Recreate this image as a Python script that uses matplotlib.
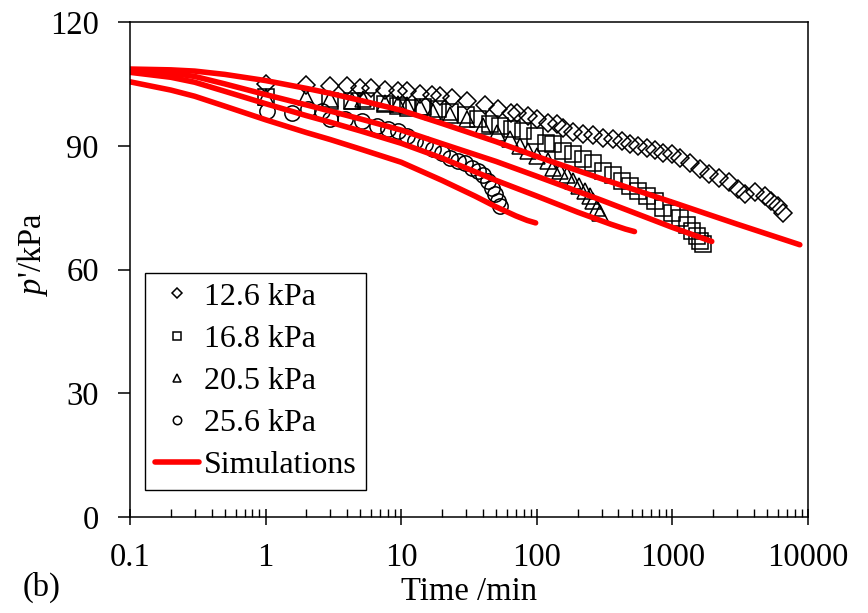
import matplotlib.pyplot as plt
from matplotlib.ticker import LogLocator, NullFormatter

plt.rcParams['font.family'] = ['Liberation Serif', 'DejaVu Serif']
plt.rcParams['mathtext.fontset'] = 'custom'
plt.rcParams['mathtext.it'] = 'Liberation Serif:italic'
plt.rcParams['mathtext.rm'] = 'Liberation Serif'

# measured data (time in min, p' in kPa)
t_126 = [1, 2, 3, 4, 5, 6, 7.6, 9.5, 11, 13.7, 16.8, 19.2, 23.6, 30.5, 41.6, 52, 64, 72, 86, 101,
         120, 142, 156, 185, 219, 259, 308, 365, 425, 486, 557, 650, 745, 853, 993, 1138, 1350,
         1587, 1870, 2200, 2600, 3060, 3440, 4050, 4800, 5300, 6000, 6500]
p_126 = [105.0, 104.8, 104.5, 104.5, 104.0, 104.0, 103.6, 103.3, 103.3, 102.6, 102.3, 102.1, 101.6,
         100.9, 99.9, 99.0, 98.0, 98.0, 97.3, 96.5, 95.6, 95.2, 94.4, 93.4, 92.9, 92.7, 91.9, 91.7,
         91.2, 90.5, 90.0, 89.5, 89.0, 88.3, 88.1, 87.1, 85.7, 84.4, 83.2, 82.3, 81.1, 79.6, 78.4,
         78.7, 77.9, 76.7, 75.5, 73.6]

t_168 = [1, 3, 4.3, 5.5, 7.6, 9.5, 11.3, 14.5, 18.6, 23, 29.8, 36.8, 45.2, 53.5, 65.7, 79, 96.6,
         117, 131, 156, 185, 219, 259, 308, 365, 425, 486, 557, 650, 745, 853, 993, 1138, 1282,
         1390, 1517, 1595, 1670]
p_168 = [101.9, 100.9, 100.9, 100.9, 100.2, 99.7, 99.2, 99.4, 99.0, 98.2, 97.5, 96.5, 95.3, 94.8,
         94.1, 93.6, 92.4, 90.7, 90.5, 88.8, 88.1, 86.9, 85.7, 84.0, 82.8, 81.5, 80.3, 79.1, 77.9,
         76.7, 75.0, 73.8, 72.4, 70.7, 69.4, 68.2, 67.0, 66.3]

t_205 = [1, 2, 3, 4.3, 5.2, 7.6, 9.5, 11, 13.7, 17.1, 23, 30.6, 40.1, 51, 63.2, 75.3, 86.3, 101,
         120, 131, 148, 168, 185, 206, 228, 246, 259, 278, 293]
p_205 = [101.9, 101.9, 101.4, 100.9, 101.4, 100.4, 100.2, 99.9, 99.4, 98.2, 97.5, 96.5, 94.8, 93.2,
         91.7, 90.0, 88.8, 87.6, 86.4, 84.7, 84.0, 82.8, 81.5, 80.3, 79.1, 77.9, 76.7, 75.0, 73.6]

t_256 = [1.02, 1.57, 2.05, 2.6, 3.0, 3.85, 5.1, 6.6, 8.0, 9.5, 11.1, 12.6, 14.9, 17.1, 20, 23, 26.3,
         29.6, 33.3, 36.8, 40, 43.6, 46.6, 49, 51.8, 53.5]
p_256 = [98.5, 98.0, 99.0, 98.5, 96.5, 96.5, 96.1, 94.8, 94.1, 93.6, 92.4, 91.2, 90.5, 89.3, 88.3,
         87.1, 86.4, 85.7, 84.7, 84.0, 82.8, 81.5, 79.8, 78.4, 76.7, 75.5]

# simulations
st_126 = [0.1, 0.2, 0.3, 0.5, 1, 2, 3, 5, 10, 20, 50, 100, 300, 1000, 3000, 8700]
sp_126 = [108.6, 108.4, 108.1, 107.3, 105.8, 103.9, 102.7, 101.0, 98.6, 95.4, 91.0, 87.4, 82.0,
          76.3, 71.0, 66.0]
st_168 = [0.1, 0.2, 0.3, 0.5, 1, 2, 3, 5, 10, 20, 50, 100, 300, 1000, 1950]
sp_168 = [108.3, 107.6, 106.8, 105.0, 102.4, 99.9, 98.4, 96.5, 93.8, 90.5, 86.2, 82.6, 76.8,
          70.2, 66.8]
st_205 = [0.1, 0.2, 0.3, 0.5, 1, 2, 3, 5, 10, 20, 50, 100, 200, 350, 450, 525]
sp_205 = [107.8, 106.6, 105.4, 103.2, 100.2, 97.3, 95.7, 93.6, 90.6, 87.0, 81.6, 77.8, 73.9,
          71.0, 69.8, 69.2]
st_256 = [0.1, 0.2, 0.3, 0.5, 1, 2, 3, 5, 10, 20, 35, 50, 70, 85, 98]
sp_256 = [105.5, 103.5, 102.0, 99.6, 96.3, 93.2, 91.5, 89.2, 86.0, 81.6, 77.8, 75.2, 73.0,
          71.9, 71.3]

fig = plt.figure(figsize=(8.68, 6.13), dpi=100)
ax = fig.add_axes([0.1498, 0.1566, 0.7811, 0.8075])

mk = dict(linestyle='none', markerfacecolor='none', markeredgecolor='black', markeredgewidth=1.1)
ax.plot(t_126, p_126, marker='D', markersize=9.5, label='12.6 kPa', **mk)
ax.plot(t_168, p_168, marker='s', markersize=11, label='16.8 kPa', **mk)
ax.plot(t_205, p_205, marker='^', markersize=11, label='20.5 kPa', **mk)
ax.plot(t_256, p_256, marker='o', markersize=11, label='25.6 kPa', **mk)

ax.plot(st_126, sp_126, color='red', lw=4, solid_capstyle='round', label='Simulations')
ax.plot(st_168, sp_168, color='red', lw=4, solid_capstyle='round')
ax.plot(st_205, sp_205, color='red', lw=4, solid_capstyle='round')
ax.plot(st_256, sp_256, color='red', lw=4, solid_capstyle='round')

ax.set_xscale('log')
ax.set_xlim(0.1, 10000)
ax.set_ylim(0, 120)
ax.set_xticks([0.1, 1, 10, 100, 1000, 10000], ['0.1', '1', '10', '100', '1000', '10000'])
ax.xaxis.set_minor_locator(LogLocator(base=10, subs=range(2, 10)))
ax.xaxis.set_minor_formatter(NullFormatter())
ax.set_yticks([0, 30, 60, 90, 120])

ax.tick_params(axis='x', which='major', direction='inout', length=12, width=1.1, labelsize=23.5, pad=12)
ax.tick_params(axis='x', which='minor', direction='in', length=5.5, width=1.0)
ax.tick_params(axis='y', which='major', direction='out', length=8.5, width=1.1, labelsize=23.5, pad=14)
for s in ax.spines.values():
    s.set_linewidth(1.1)

ax.set_xlabel('Time /min', fontsize=23.5, labelpad=3)
ax.set_ylabel("$\\it{p}$'/kPa", fontsize=23.5)
ax.yaxis.set_label_coords(-0.118, 0.53)

fig.text(0.048, 0.042, '(b)', fontsize=23.5, ha='center', va='center')

leg = ax.legend(loc='lower left', bbox_to_anchor=(0.022, 0.055), borderaxespad=0,
                fontsize=23, markerscale=0.55, handlelength=1.4, handletextpad=0.15,
                labelspacing=0.4, borderpad=0.3, fancybox=False, framealpha=1)
leg.get_frame().set_edgecolor('black')
leg.get_frame().set_linewidth(1.0)

fig.savefig('out.png', dpi=100)
